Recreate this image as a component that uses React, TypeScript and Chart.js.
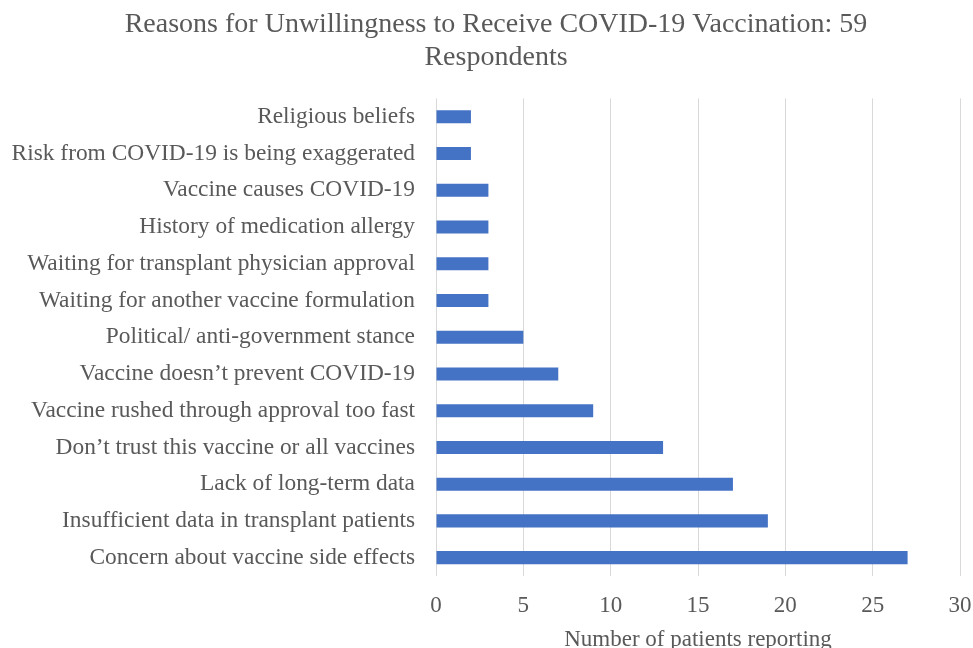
import React, { useEffect, useRef } from "react";
import { Chart, registerables } from "chart.js";

Chart.register(...registerables);

const categories = [
  "Religious beliefs",
  "Risk from COVID-19 is being exaggerated",
  "Vaccine causes COVID-19",
  "History of medication allergy",
  "Waiting for transplant physician approval",
  "Waiting for another vaccine formulation",
  "Political/ anti-government stance",
  "Vaccine doesn\u2019t prevent COVID-19",
  "Vaccine rushed through approval too fast",
  "Don\u2019t trust this vaccine or all vaccines",
  "Lack of long-term data",
  "Insufficient data in transplant patients",
  "Concern about vaccine side effects",
];
const patientCounts = [2, 2, 3, 3, 3, 3, 5, 7, 9, 13, 17, 19, 27];
const titleLines = ["Reasons for Unwillingness to Receive COVID-19 Vaccination: 59", "Respondents"];
const xAxisTitle = "Number of patients reporting";
const xMin = 0;
const xMax = 30;
const xStep = 5;

const FONT = "'Liberation Serif', 'Times New Roman', serif";
const TEXT = "#595959";

export default function App() {
  const ref = useRef<HTMLCanvasElement | null>(null);
  useEffect(() => {
    document.body.style.margin = "0";
    const ctx = ref.current!;
    const chart = new Chart(ctx, {
      type: "bar",
      data: {
        labels: categories,
        datasets: [
          {
            data: patientCounts,
            backgroundColor: "#4472C4",
            borderWidth: 0,
            categoryPercentage: 1,
            barPercentage: 0.355,
          },
        ],
      },
      options: {
        indexAxis: "y",
        animation: false,
        responsive: false,
        layout: { padding: { left: 19, right: 0, top: 0, bottom: 0 } },
        plugins: {
          legend: { display: false },
          tooltip: { enabled: false },
          title: {
            display: true,
            text: titleLines,
            color: TEXT,
            font: { family: FONT, size: 28, weight: "normal", lineHeight: 1.15 },
            padding: { top: 9, bottom: 25 },
          },
        },
        scales: {
          y: {
            grid: { display: false, drawTicks: false },
            border: { display: false },
            ticks: {
              color: TEXT,
              font: { family: FONT, size: 23.4 },
              padding: 21,
              autoSkip: false,
            },
            afterFit: (s: any) => {
              s.width = 417;
              s._computeLabelArea = () => undefined;
            },
          },
          x: {
            min: xMin,
            max: xMax,
            grid: { color: "#d9d9d9", lineWidth: 1, drawTicks: false },
            border: { display: false },
            ticks: {
              stepSize: xStep,
              color: TEXT,
              font: { family: FONT, size: 23 },
              padding: 16,
            },
            title: {
              display: true,
              text: xAxisTitle,
              color: TEXT,
              font: { family: FONT, size: 23 },
              padding: { top: 3, bottom: 0 },
            },
            afterFit: (s: any) => {
              s.height = 78;
              s.paddingRight = 13;
              s.paddingLeft = 0;
            },
          },
        },
      },
    });
    return () => chart.destroy();
  }, []);
  return (
    <div style={{ width: 973, height: 654 }}>
      <canvas ref={ref} width={973} height={654} style={{ display: "block" }} />
    </div>
  );
}
